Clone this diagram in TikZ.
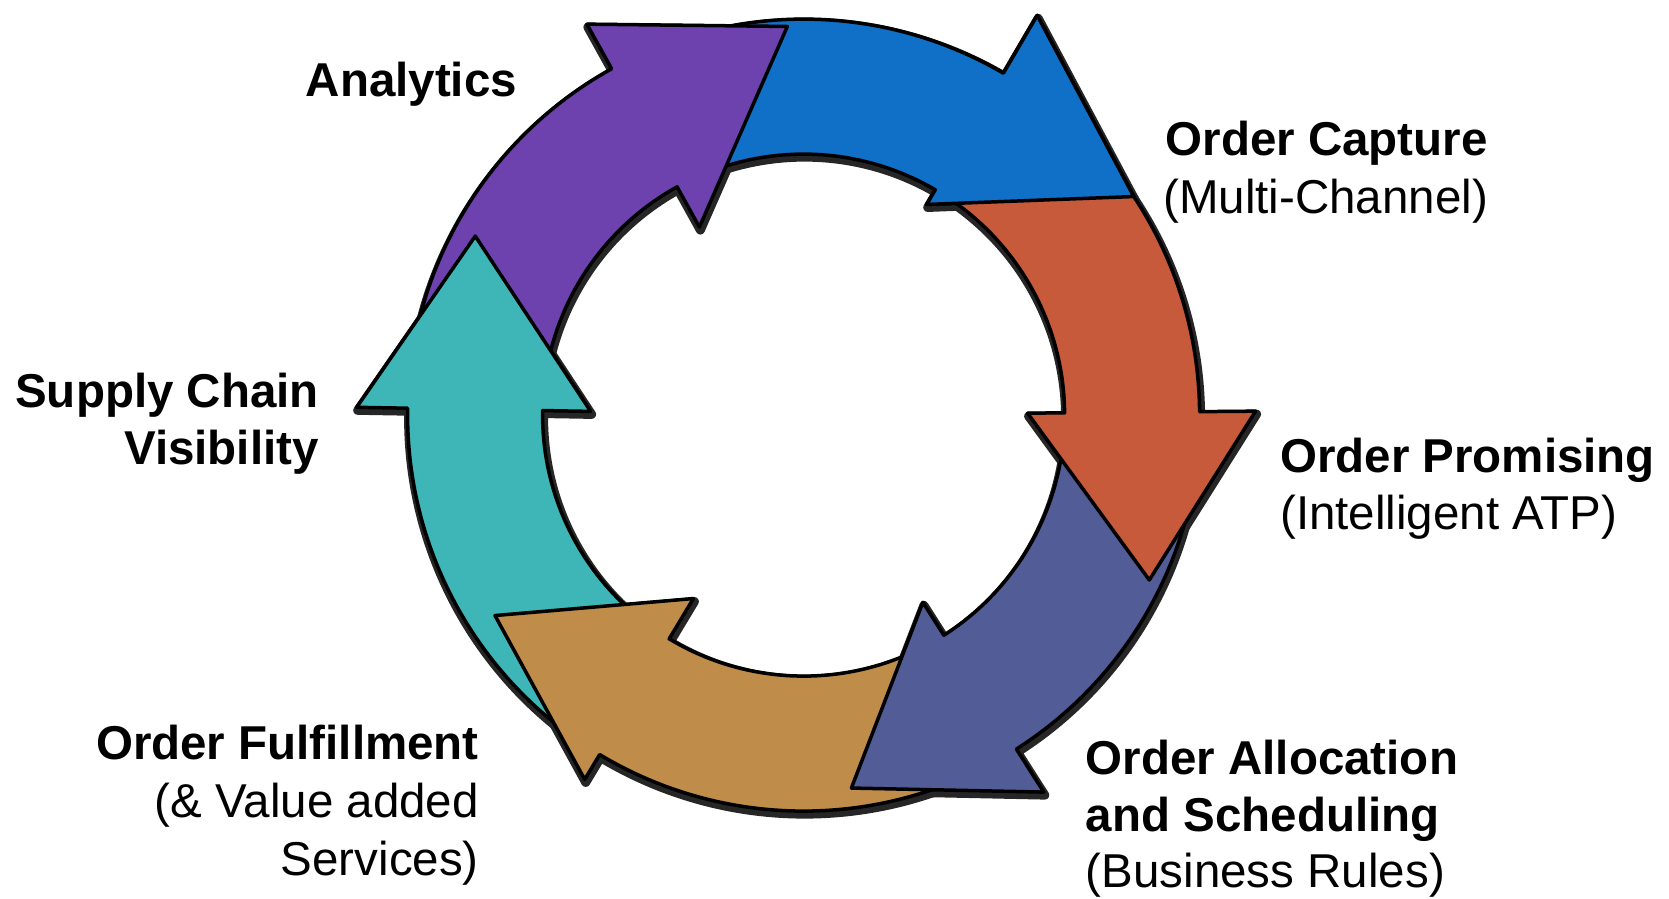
\documentclass[tikz,border=0pt]{standalone}
\usepackage{fontspec}
\setmainfont{Liberation Sans}
\definecolor{cpurple}{RGB}{110,66,174}
\definecolor{cblue}{RGB}{16,112,200}
\definecolor{cred}{RGB}{198,90,58}
\definecolor{cslate}{RGB}{82,92,150}
\definecolor{ctan}{RGB}{192,140,74}
\definecolor{cteal}{RGB}{62,182,184}
\def\rin{261}
\def\rout{396}
% #1 start, #2 base, #3 tip angle, #4 barb in, #5 barb out, #6 tip r, #7 options
\newcommand{\ringarrow}[7]{%
  \path[#7] (#1:\rout) arc[start angle=#1, end angle=#2, radius=\rout]
    -- (#2:#5) -- (#3:#6) -- (#2:#4) -- (#2:\rin)
    arc[start angle=#2, end angle=#1, radius=\rin] -- cycle;}
\tikzset{
  shade3d/.style={fill=black!85, draw=black!85, line width=9pt, line join=round, shift={(1,-3)}},
  ring/.style={draw=black, line width=3.5pt, line join=round},
  bold label/.style={font=\bfseries\fontsize{47.5}{57}\selectfont, inner sep=0pt},
  plain label/.style={font=\fontsize{47.5}{57}\selectfont, inner sep=0pt},
}
\begin{document}
\begin{tikzpicture}[x=1pt,y=1pt]
\useasboundingbox (0,0) rectangle (1669,-898);
\begin{scope}[shift={(803.6,-415.1)}]
  % shadows
  \ringarrow{117}{59.7}{33.5}{244}{463}{396}{shade3d}
  \ringarrow{177}{119}{92.4}{215}{447}{389}{shade3d}
  \ringarrow{237}{179}{151.4}{213}{447}{374}{shade3d}
  \ringarrow{-59.5}{-121}{-147}{214}{425}{368}{shade3d}
  \ringarrow{-1.5}{-57.5}{-82.7}{222}{447}{376}{shade3d}
  \ringarrow{57.7}{0.5}{-25.5}{224}{452}{383}{shade3d}
  % arrows
  \ringarrow{117}{59.7}{33.5}{244}{463}{396}{ring, fill=cblue}
  \ringarrow{177}{119}{92.4}{215}{447}{389}{ring, fill=cpurple}
  \ringarrow{237}{179}{151.4}{213}{447}{374}{ring, fill=cteal}
  \ringarrow{-59.5}{-121}{-147}{214}{425}{368}{ring, fill=ctan}
  \ringarrow{-1.5}{-57.5}{-82.7}{222}{447}{376}{ring, fill=cslate}
  \ringarrow{57.7}{0.5}{-25.5}{224}{452}{383}{ring, fill=cred}
  \begin{scope}
    \clip (0,0) -- (66:620) arc[start angle=66, end angle=28, radius=620] -- cycle;
    \ringarrow{117}{59.7}{33.5}{244}{463}{396}{ring, fill=cblue}
  \end{scope}
\end{scope}
\node[bold label, anchor=base west] (ana) at (305.5,-96) {Analytics};
\node[bold label, anchor=base west] (cap1) at (1165.5,-155) {Order Capture};
\node[plain label, anchor=base west] (cap2) at (1163,-213) {(Multi-Channel)};
\node[bold label, anchor=base west] (pro1) at (1280,-472) {Order Promising};
\node[plain label, anchor=base west] (pro2) at (1280,-529) {(Intelligent ATP)};
\node[bold label, anchor=base west] (all1) at (1085.7,-774) {Order Allocation};
\node[bold label, anchor=base west] (all2) at (1085.7,-831) {and Scheduling};
\node[plain label, anchor=base west] (all3) at (1085.7,-887) {(Business Rules)};
\node[bold label, anchor=base east] (scv1) at (319,-407) {Supply Chain};
\node[bold label, anchor=base east] (scv2) at (319,-464) {Visibility};
\node[bold label, anchor=base east] (ful1) at (479,-759) {Order Fulfillment};
\node[plain label, anchor=base east] (ful2) at (479,-817) {(\& Value added};
\node[plain label, anchor=base east] (ful3) at (479,-875) {Services)};
\end{tikzpicture}
\end{document}
